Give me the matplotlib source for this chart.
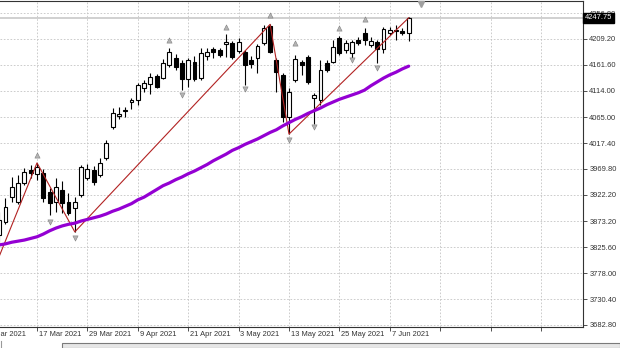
import matplotlib
matplotlib.use("Agg")
import matplotlib.pyplot as plt
from matplotlib.patches import Rectangle
from matplotlib.lines import Line2D
import numpy as np

plt.rcParams['font.family'] = ['Liberation Sans', 'DejaVu Sans']

# ---------------- data ----------------
dates = ["4 Mar", "5 Mar", "8 Mar", "9 Mar", "10 Mar", "11 Mar", "12 Mar", "15 Mar", "16 Mar",
         "17 Mar", "18 Mar", "19 Mar", "22 Mar", "23 Mar", "24 Mar", "25 Mar", "26 Mar", "29 Mar",
         "30 Mar", "31 Mar", "1 Apr", "5 Apr", "6 Apr", "7 Apr", "8 Apr", "9 Apr", "12 Apr",
         "13 Apr", "14 Apr", "15 Apr", "16 Apr", "19 Apr", "20 Apr", "21 Apr", "22 Apr", "23 Apr",
         "26 Apr", "27 Apr", "28 Apr", "29 Apr", "30 Apr", "3 May", "4 May", "5 May", "6 May",
         "7 May", "10 May", "11 May", "12 May", "13 May", "14 May", "17 May", "18 May", "19 May",
         "20 May", "21 May", "24 May", "25 May", "26 May", "27 May", "28 May", "1 Jun", "2 Jun",
         "3 Jun", "4 Jun", "7 Jun", "8 Jun", "9 Jun", "10 Jun"]

first_candle = "9 Mar"

opens = [3848, 3872, 3918, 3909, 3944, 3968, 3961, 3962, 3927, 3909, 3931, 3909, 3898, 3922,
         3953, 3968, 3959, 3990, 4047, 4067, 4076, 4093, 4097, 4119, 4126, 4141, 4137, 4161,
         4174, 4165, 4135, 4167, 4137, 4178, 4191, 4189, 4200, 4202, 4187, 4185, 4170, 4174,
         4202, 4233, 4170, 4143, 4065, 4134, 4167, 4176, 4100, 4097, 4165, 4167, 4211, 4189,
         4183, 4207, 4220, 4198, 4203, 4191, 4220, 4224, 4224, 4220]
highs = [3890, 3916, 3955, 3959, 3972, 3977, 3981, 3970, 3935, 3953, 3948, 3926, 3918, 3977,
         3979, 3975, 3990, 4023, 4082, 4084, 4084, 4100, 4128, 4134, 4146, 4145, 4172, 4192,
         4181, 4170, 4174, 4178, 4192, 4192, 4194, 4192, 4218, 4205, 4211, 4189, 4178, 4200,
         4235, 4236, 4174, 4146, 4119, 4180, 4170, 4180, 4110, 4170, 4170, 4207, 4215, 4207,
         4207, 4213, 4229, 4213, 4207, 4231, 4231, 4235, 4229, 4249]
lows = [3830, 3868, 3909, 3905, 3940, 3953, 3950, 3909, 3885, 3891, 3889, 3885, 3854, 3918,
        3950, 3940, 3955, 3986, 4043, 4062, 4065, 4080, 4088, 4111, 4108, 4119, 4135, 4157,
        4152, 4115, 4121, 4132, 4134, 4170, 4174, 4176, 4176, 4172, 4183, 4124, 4156, 4146,
        4198, 4183, 4111, 4056, 4034, 4130, 4143, 4126, 4053, 4088, 4148, 4165, 4180, 4183,
        4174, 4198, 4198, 4194, 4165, 4183, 4216, 4207, 4216, 4205]
closes = [3876, 3900, 3937, 3944, 3964, 3962, 3973, 3916, 3907, 3937, 3907, 3889, 3909, 3973,
          3970, 3946, 3981, 4018, 4073, 4071, 4078, 4097, 4124, 4128, 4139, 4121, 4165, 4185,
          4157, 4135, 4170, 4135, 4183, 4185, 4185, 4180, 4203, 4176, 4203, 4161, 4163, 4196,
          4229, 4185, 4148, 4065, 4111, 4172, 4161, 4130, 4106, 4152, 4152, 4194, 4183, 4202,
          4203, 4202, 4207, 4205, 4191, 4227, 4226, 4225, 4220, 4247.75]

ma_line = [3830, 3832, 3835, 3837, 3839, 3842, 3845, 3850, 3856, 3861, 3865, 3868, 3870, 3874,
           3877, 3880, 3883, 3887, 3892, 3896, 3901, 3906, 3913, 3918, 3925, 3932, 3939, 3944,
           3950, 3955, 3961, 3966, 3972, 3978, 3985, 3991, 3997, 4004, 4009, 4015, 4020, 4025,
           4031, 4037, 4042, 4049, 4055, 4061, 4066, 4072, 4077, 4082, 4088, 4093, 4098, 4102,
           4106, 4110, 4115, 4123, 4130, 4137, 4143, 4148, 4154, 4159]

zigzag_dates = ["4 Mar", "17 Mar", "25 Mar", "10 May", "13 May", "10 Jun"]
zigzag_prices = [3723, 3981, 3854, 4236, 4034, 4248]

fractal_up_dates = ["17 Mar", "16 Apr", "29 Apr", "10 May", "14 May", "25 May", "1 Jun"]
fractal_up_prices = [3995, 4207, 4231, 4253, 4202, 4229, 4246]
fractal_dn_dates = ["19 Mar", "25 Mar", "20 Apr", "4 May", "13 May", "19 May", "27 May", "3 Jun"]
fractal_dn_prices = [3872, 3843, 4106, 4117, 4023, 4047, 4170, 4156]

date_tick_labels = ["5 Mar 2021", "17 Mar 2021", "29 Mar 2021", "9 Apr 2021", "21 Apr 2021",
                    "3 May 2021", "13 May 2021", "25 May 2021", "7 Jun 2021"]
price_ticks = [4256.80, 4209.20, 4161.60, 4114.00, 4065.00, 4017.40, 3969.80, 3922.20,
               3873.20, 3825.60, 3778.00, 3730.40, 3682.80]
last_price = 4247.75

# ---------------- figure ----------------
W, H = 620, 348
fig = plt.figure(figsize=(W / 100, H / 100), dpi=100)
fig.patch.set_facecolor('white')
ax = fig.add_axes([0, 21 / H, 583 / W, 326 / H])

idx = {d: i for i, d in enumerate(dates)}
start = idx[first_candle]
n = len(opens)
x = np.arange(start, start + n)
o = np.array(opens, float)
h = np.array(highs, float)
l = np.array(lows, float)
c = np.array(closes, float)

# grid ticks every 8 bars (MetaTrader style)
label_pos = [idx[lbl.rsplit(' ', 1)[0]] for lbl in date_tick_labels]
step = label_pos[1] - label_pos[0]
grid_pos = list(range(label_pos[0], len(dates) + 30, step))

ax.set_xticks(grid_pos)
ax.set_xticklabels([])
ax.set_yticks(price_ticks)
ax.set_yticklabels([f"{v:.2f}" for v in price_ticks])
ax.yaxis.tick_right()
ax.tick_params(axis='y', direction='out', length=3, width=0.6, pad=1.5,
               labelsize=5.4, colors='#333333')
ax.tick_params(axis='x', direction='out', length=3, width=0.6, colors='#333333')
ax.grid(True, linestyle=(0, (2, 2)), color='#C4C4C4', linewidth=0.6, zorder=0)
ax.set_axisbelow(True)

ax.spines['left'].set_visible(False)
for s in ['right', 'top', 'bottom']:
    ax.spines[s].set_color('#333333')
    ax.spines[s].set_linewidth(0.8)

xt = ax.get_xaxis_transform()

# bid line
ax.axhline(last_price, color='#C8C8C8', lw=1.2, zorder=1)

# candles
ax.vlines(x, l, h, color='black', lw=0.8, zorder=3)
up = c >= o
body_bottom = np.minimum(o, c)
body_h = np.maximum(np.abs(c - o), 0.9)
ax.bar(x, body_h, bottom=body_bottom, width=0.62,
       color=np.where(up, 'white', 'black'), edgecolor='black', linewidth=0.8, zorder=4)

# zigzag
ax.plot([idx[d] for d in zigzag_dates], zigzag_prices, color='#B22222', lw=0.8, zorder=5)

# moving average
ax.plot(x, ma_line, color='#9400D3', lw=2.3, zorder=6, solid_capstyle='round')

# fractal arrows
ax.scatter([idx[d] for d in fractal_up_dates], fractal_up_prices, marker='^', s=14,
           color='#B4B4B4', edgecolors='#808080', linewidths=0.4, zorder=7)
ax.scatter([idx[d] for d in fractal_dn_dates], fractal_dn_prices, marker='v', s=14,
           color='#B4B4B4', edgecolors='#808080', linewidths=0.4, zorder=7)

# chart-shift marker
ax.plot([len(dates) + 1], [0.992], transform=xt, marker='v', ms=4, color='#A0A0A0',
        clip_on=False, zorder=8)

# limits (after ticks so they are not expanded)
ax.set_xlim(3.127, 95.667)
ax.set_ylim(3679.0, 4278.9)

# date labels (left aligned after tick)
for p, lbl in zip(label_pos, date_tick_labels):
    ax.text(p + 0.3, -0.012, lbl, transform=xt, ha='left', va='top', fontsize=5.4,
            color='#333333', clip_on=False)

# last price box
ax.text(1.003, last_price, f"{last_price:.2f}", transform=ax.get_yaxis_transform(),
        ha='left', va='center', fontsize=5.4, color='white', zorder=20, clip_on=False,
        bbox=dict(boxstyle='square,pad=0.2', fc='black', ec='black'))

# bottom tab bar
fig.add_artist(Rectangle((62 / W, 0), 1 - 62 / W, 5 / H, transform=fig.transFigure,
                         facecolor='#E6E6E6', edgecolor='#7A7A7A', lw=0.8))
fig.add_artist(Line2D([1 / W, 1 / W], [0, 7 / H], transform=fig.transFigure,
                      color='#9A9A9A', lw=0.8))

fig.savefig('out.png', dpi=100, facecolor='white')
